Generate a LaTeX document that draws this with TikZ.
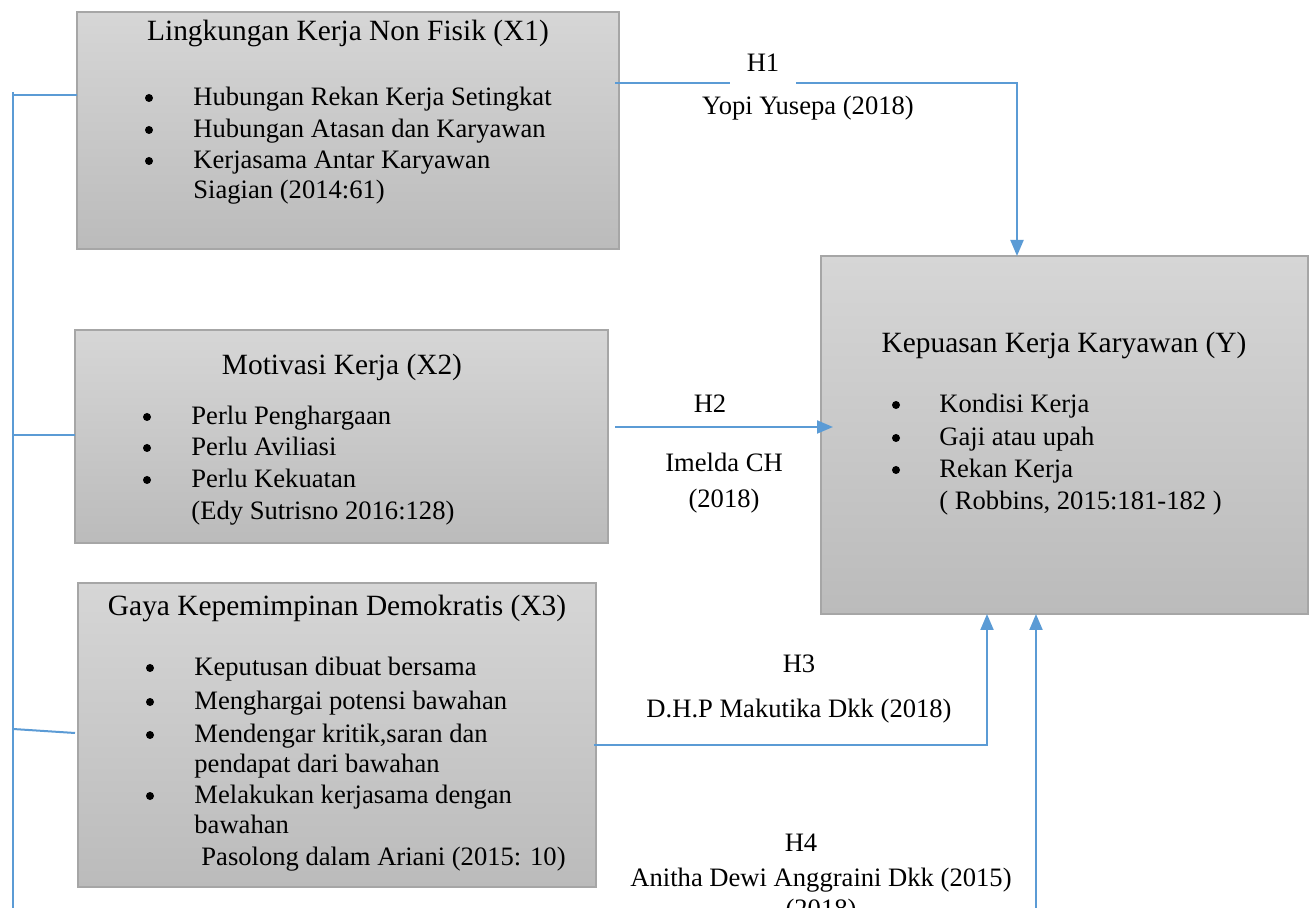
\documentclass[tikz,border=0pt]{standalone}
\usepackage{fontspec}
\setmainfont{Liberation Serif}
\usetikzlibrary{arrows.meta,calc}
\definecolor{linkblue}{HTML}{5B9BD5}
\definecolor{boxtop}{HTML}{D6D6D6}
\definecolor{boxbot}{HTML}{BBBBBB}
\definecolor{boxedge}{HTML}{A6A6A6}
\begin{document}
\begin{tikzpicture}[x=0.5pt,y=-0.5pt,
  box/.style={draw=boxedge, line width=0.75pt, top color=boxtop, bottom color=boxbot, inner sep=0pt, outer sep=0pt, anchor=north west},
  ttl/.style={font=\fontsize{14.7}{17}\selectfont, anchor=mid, inner sep=0pt},
  txt/.style={font=\fontsize{13.3}{15}\selectfont, anchor=mid west, inner sep=0pt},
  bul/.style={circle, fill=black, inner sep=0pt, minimum size=4pt, yshift=1.5pt},
  lbl/.style={font=\fontsize{13.3}{15}\selectfont, anchor=mid, inner sep=0pt},
  link/.style={draw=linkblue, line width=1pt},
  arr/.style={link, -{Triangle[length=8pt,width=6.5pt]}}]
\fill[white] (0,0) rectangle (1312,908);
\useasboundingbox (0,0) rectangle (1312,908);
% boxes
\node[box, minimum width=271pt, minimum height=118.5pt] (x1) at (77,12) {};
\node[box, minimum width=266.5pt, minimum height=106.5pt] (x2) at (75,330) {};
\node[box, minimum width=259pt, minimum height=152pt] (x3) at (78,583) {};
\node[box, minimum width=243.5pt, minimum height=179pt] (y) at (821,256) {};
% helper coordinates
\coordinate (busx) at (13,0);
\coordinate (h1x) at (1017,0);
\coordinate (h3x) at (987,0);
\coordinate (h4x) at (1036,0);
\coordinate (bb) at (13,935);
\coordinate (b1) at ($(x1.north west)+(0,83)$);
\coordinate (b2) at ($(x2.north west)+(0,105)$);
\coordinate (b3) at ($(x3.north west)+(-3,150)$);
% connectors
\draw[link] (b1) -- (b1 -| busx);
\draw[link] (b2) -- (b2 -| busx);
\draw[link] (b3) -- ($(busx)+(0,729)$);
\draw[arr] ($(busx |- b1)+(0,-3)$) -- (bb) -| (y.south -| h4x);
\draw[arr] ($(x1.north east)+(-4,71)$) -| (y.north -| h1x);
\draw[arr] ($(x2.north east)+(7,97)$) -- ($(y.north west)+(12,171)$);
\draw[arr] ($(x3.north east)+(-2,162)$) -| (y.south -| h3x);
% labels
\node[lbl, anchor=center, fill=white, minimum width=33pt, minimum height=24pt] (h1) at (763,63) {H1};
\node[lbl] (l1) at (808,110) {Yopi Yusepa (2018)};
\node[lbl] (h2) at (710,408) {H2};
\node[lbl] (l2a) at (724,467) {Imelda CH};
\node[lbl] (l2b) at (724,503) {(2018)};
\node[lbl] (h3) at (799,668) {H3};
\node[lbl] (l3) at (799,713) {D.H.P Makutika Dkk (2018)};
\node[lbl] (h4) at (801,847) {H4};
\node[lbl] (l4a) at (821,882) {Anitha Dewi Anggraini Dkk (2015)};
\node[lbl] (l4b) at (821,913) {(2018)};
% X1 text
\node[ttl] (x1t) at (348,36) {Lingkungan Kerja Non Fisik (X1)};
\node[bul] (x1b1) at (149,101) {};
\node[bul] (x1b2) at (149,133) {};
\node[bul] (x1b3) at (149,164) {};
\node[txt] (x1i1) at (193,101) {Hubungan Rekan Kerja Setingkat};
\node[txt] (x1i2) at (193,133) {Hubungan Atasan dan Karyawan};
\node[txt] (x1i3) at (193,164) {Kerjasama Antar Karyawan};
\node[txt] (x1i4) at (193,194) {Siagian (2014:61)};
% X2 text
\node[ttl] (x2t) at (342,370) {Motivasi Kerja (X2)};
\node[bul] (x2b1) at (147,420) {};
\node[bul] (x2b2) at (147,451) {};
\node[bul] (x2b3) at (147,483) {};
\node[txt] (x2i1) at (191,420) {Perlu Penghargaan};
\node[txt] (x2i2) at (191,451) {Perlu Aviliasi};
\node[txt] (x2i3) at (191,483) {Perlu Kekuatan};
\node[txt] (x2i4) at (191,515) {(Edy Sutrisno 2016:128)};
% X3 text
\node[ttl] (x3t) at (337,611) {Gaya Kepemimpinan Demokratis (X3)};
\node[bul] (x3b1) at (150,671) {};
\node[bul] (x3b2) at (150,705) {};
\node[bul] (x3b3) at (150,738) {};
\node[bul] (x3b4) at (150,799) {};
\node[txt] (x3i1) at (194,671) {Keputusan dibuat bersama};
\node[txt] (x3i2) at (194,705) {Menghargai potensi bawahan};
\node[txt] (x3i3) at (194,738) {Mendengar kritik,saran dan};
\node[txt] (x3i4) at (194,768) {pendapat dari bawahan};
\node[txt] (x3i5) at (194,799) {Melakukan kerjasama dengan};
\node[txt] (x3i6) at (194,829) {bawahan};
\node[txt] (x3i7) at (201,861) {Pasolong dalam Ariani (2015: 10)};
% Y text
\node[ttl] (yt) at (1064,348) {Kepuasan Kerja Karyawan (Y)};
\node[bul] (yb1) at (896,408) {};
\node[bul] (yb2) at (896,441) {};
\node[bul] (yb3) at (896,473) {};
\node[txt] (yi1) at (939,408) {Kondisi Kerja};
\node[txt] (yi2) at (939,441) {Gaji atau upah};
\node[txt] (yi3) at (939,473) {Rekan Kerja};
\node[txt] (yi4) at (939,505) {( Robbins, 2015:181-182 )};
\end{tikzpicture}
\end{document}
